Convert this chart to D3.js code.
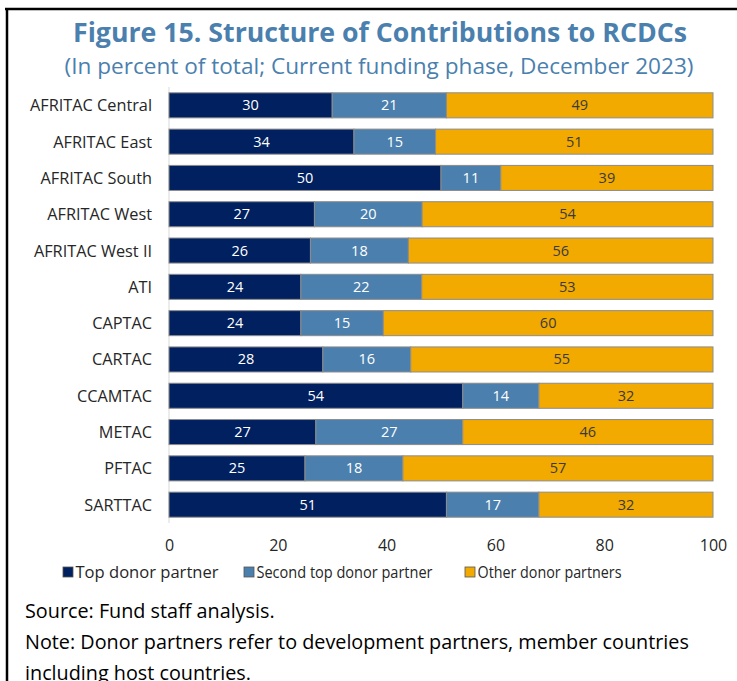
<!DOCTYPE html>
<html>
<head>
<meta charset="utf-8">
<script src="https://cdn.jsdelivr.net/npm/d3@7"></script>
<style>
  html, body { margin: 0; padding: 0; background: #fff; }
  svg { display: block; }
</style>
</head>
<body>
<svg id="chart" width="737" height="681"></svg>
<script>
const centers = ["AFRITAC Central", "AFRITAC East", "AFRITAC South", "AFRITAC West",
  "AFRITAC West II", "ATI", "CAPTAC", "CARTAC", "CCAMTAC", "METAC", "PFTAC", "SARTTAC"];
const topDonor = [30, 34, 50, 27, 26, 24, 24, 28, 54, 27, 25, 51];
const secondDonor = [21, 15, 11, 20, 18, 22, 15, 16, 14, 27, 18, 17];
const otherDonors = [49, 51, 39, 54, 56, 53, 60, 55, 32, 46, 57, 32];
const seriesNames = ["Top donor partner", "Second top donor partner", "Other donor partners"];
const xTicks = [0, 20, 40, 60, 80, 100];

(function () {
  const svg = d3.select("#chart");
  const font = "'Open Sans', 'Noto Sans', sans-serif";
  const colors = ["#002060", "#4a7fae", "#f2a900"];
  const labelColors = ["#ffffff", "#ffffff", "#3a3a3a"];

  // frame
  svg.append("line").attr("x1", 5).attr("x2", 737).attr("y1", 9).attr("y2", 9)
    .attr("stroke", "#000").attr("stroke-width", 2.5);
  svg.append("line").attr("x1", 7).attr("x2", 7).attr("y1", 8).attr("y2", 681)
    .attr("stroke", "#000").attr("stroke-width", 2.5);

  svg.append("text").attr("x", 380).attr("y", 42)
    .attr("text-anchor", "middle")
    .style("font-family", font).style("font-weight", "bold")
    .style("font-size", "26.5px").attr("fill", "#4a7fae")
    .attr("textLength", 614).attr("lengthAdjust", "spacingAndGlyphs")
    .text("Figure 15. Structure of Contributions to RCDCs");
  svg.append("text").attr("x", 379).attr("y", 74)
    .attr("text-anchor", "middle")
    .style("font-family", font).style("font-size", "21px").attr("fill", "#4a7fae")
    .attr("textLength", 629).attr("lengthAdjust", "spacingAndGlyphs")
    .text("(In percent of total; Current funding phase, December 2023)");

  // shares of each row's total, so rounded rows still fill the bar
  const rows = centers.map((c, i) => {
    const vals = [topDonor[i], secondDonor[i], otherDonors[i]];
    return { center: c, values: vals, total: d3.sum(vals) };
  });

  const x = d3.scaleLinear().domain([0, 100]).range([169, 713]);
  const y = d3.scaleBand().domain(centers).range([87, 523]).paddingInner(0.31).paddingOuter(0.16);

  // vertical line at 0
  svg.append("line").attr("x1", x(0)).attr("x2", x(0)).attr("y1", 87).attr("y2", 523)
    .attr("stroke", "#d9d9d9").attr("stroke-width", 1);

  const segs = [];
  rows.forEach((r) => {
    let acc = 0;
    r.values.forEach((v, k) => {
      const s = (v / r.total) * 100;
      segs.push({ center: r.center, k, v, x0: acc, x1: acc + s });
      acc += s;
    });
  });

  const g = svg.append("g");
  g.selectAll(null).data(segs).enter().append("rect")
    .attr("x", (d) => x(d.x0))
    .attr("y", (d) => y(d.center))
    .attr("width", (d) => x(d.x1) - x(d.x0))
    .attr("height", y.bandwidth())
    .attr("fill", (d) => colors[d.k])
    .attr("stroke", "#8c8c8c").attr("stroke-width", 1);

  g.selectAll(null).data(segs).enter().append("text")
    .attr("x", (d) => x((d.x0 + d.x1) / 2))
    .attr("y", (d) => y(d.center) + y.bandwidth() / 2 + 5)
    .attr("text-anchor", "middle")
    .style("font-family", font).style("font-size", "14.5px")
    .attr("fill", (d) => labelColors[d.k])
    .text((d) => d.v);

  // category labels
  svg.append("g").selectAll(null).data(centers).enter().append("text")
    .attr("x", 152)
    .attr("y", (d) => y(d) + y.bandwidth() / 2 + 6)
    .attr("text-anchor", "end")
    .style("font-family", font).style("font-size", "16.3px").attr("fill", "#262626")
    .text((d) => d);

  // x axis
  const xAxis = svg.append("g").attr("transform", "translate(0,534)")
    .call(d3.axisBottom(x).tickValues(xTicks).tickSize(0).tickPadding(6));
  xAxis.select(".domain").remove();
  xAxis.selectAll("text").style("font-family", font).style("font-size", "16px").attr("fill", "#262626");

  // legend
  const legendX = [63, 244, 465];
  const legendW = [143, 176, 144];
  const legend = svg.append("g").selectAll(null).data(seriesNames).enter().append("g")
    .attr("transform", (d, i) => `translate(${legendX[i]},567)`);
  legend.append("rect").attr("width", 10).attr("height", 10)
    .attr("fill", (d, i) => colors[i]).attr("stroke", "#555").attr("stroke-width", 0.8);
  legend.append("text").attr("x", 12.5).attr("y", 11)
    .style("font-family", font).style("font-size", "16px").attr("fill", "#262626")
    .attr("textLength", (d, i) => legendW[i]).attr("lengthAdjust", "spacingAndGlyphs")
    .text((d) => d);

  // notes
  const notes = ["Source: Fund staff analysis.",
    "Note: Donor partners refer to development partners, member countries",
    "including host countries."];
  svg.append("g").selectAll(null).data(notes).enter().append("text")
    .attr("x", 25).attr("y", (d, i) => 618 + i * 31)
    .style("font-family", font).style("font-size", "19.8px").attr("fill", "#000")
    .text((d) => d);
})();
</script>
</body>
</html>
